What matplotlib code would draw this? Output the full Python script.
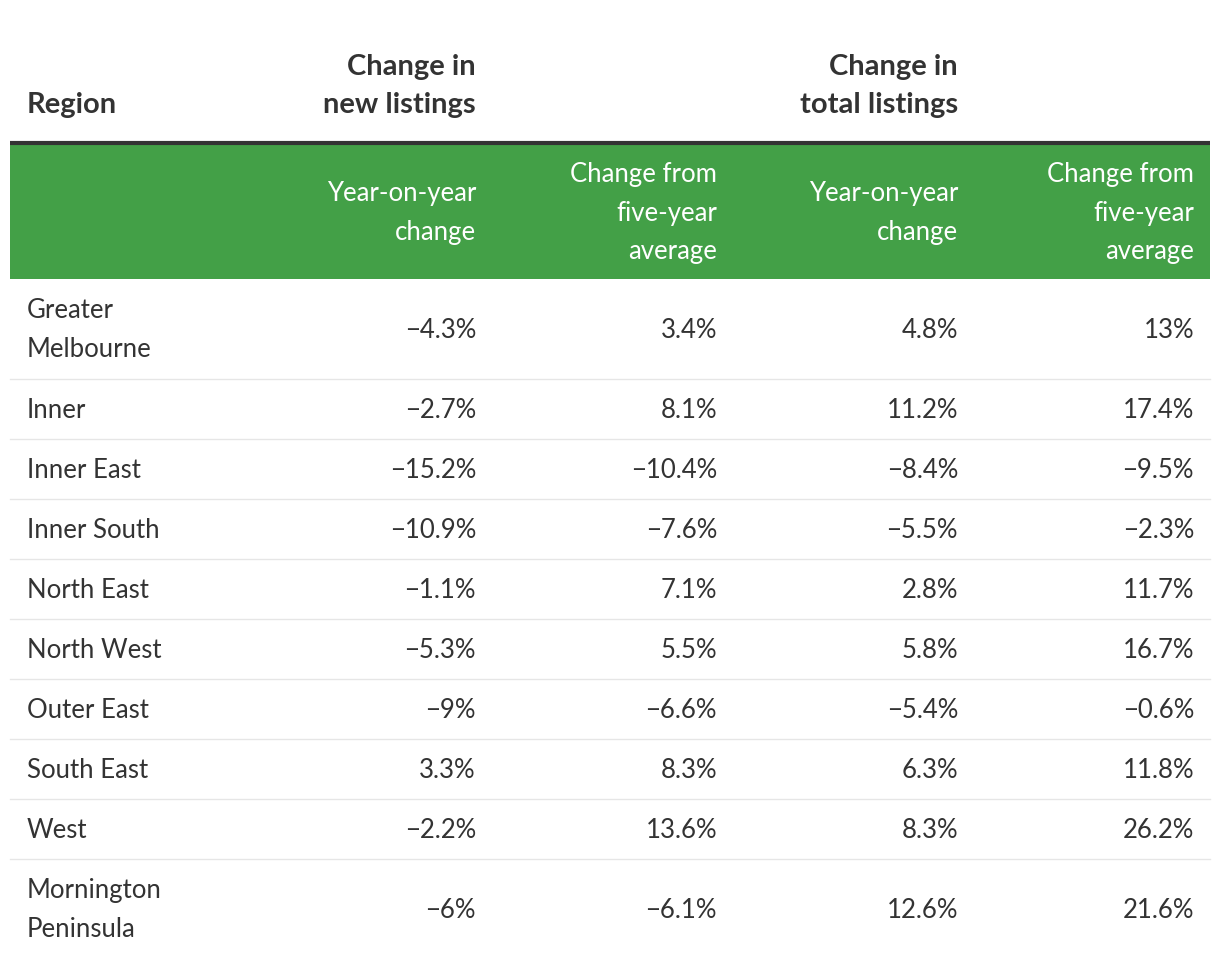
import matplotlib
matplotlib.use("Agg")
import matplotlib.pyplot as plt
from matplotlib.patches import Rectangle

regions = ["Greater\nMelbourne", "Inner", "Inner East", "Inner South", "North East",
           "North West", "Outer East", "South East", "West", "Mornington\nPeninsula"]
new_yoy = ["−4.3%", "−2.7%", "−15.2%", "−10.9%", "−1.1%", "−5.3%", "−9%", "3.3%", "−2.2%", "−6%"]
new_5yr = ["3.4%", "8.1%", "−10.4%", "−7.6%", "7.1%", "5.5%", "−6.6%", "8.3%", "13.6%", "−6.1%"]
total_yoy = ["4.8%", "11.2%", "−8.4%", "−5.5%", "2.8%", "5.8%", "−5.4%", "6.3%", "8.3%", "12.6%"]
total_5yr = ["13%", "17.4%", "−9.5%", "−2.3%", "11.7%", "16.7%", "−0.6%", "11.8%", "26.2%", "21.6%"]

group_headers = ["Change in\nnew listings", "Change in\ntotal listings"]
sub_headers = ["Year-on-year\nchange", "Change from\nfive-year\naverage",
               "Year-on-year\nchange", "Change from\nfive-year\naverage"]

plt.rcParams['font.family'] = ['Lato', 'DejaVu Sans']
TEXT = "#333333"
GREEN = "#43A047"
FS = 18.5
HFS = 21

fig = plt.figure(figsize=(12.2, 9.66), dpi=100)
ax = fig.add_axes([0, 0, 1, 1])
ax.set_xlim(0, 1220)
ax.set_ylim(966, 0)
ax.axis("off")

left, right = 10, 1210
col_right = [476, 717, 958, 1194]
text_left = 27

# top header
ax.text(text_left, 105, "Region", ha="left", va="center", fontsize=HFS, fontweight="bold", color=TEXT)
for i, h in enumerate(group_headers):
    ax.text(col_right[i * 2], 86, h, ha="right", va="center", fontsize=HFS, fontweight="bold",
            color=TEXT, linespacing=1.55)
ax.plot([left, right], [143, 143], color=TEXT, lw=3, solid_capstyle="butt")

# green sub-header band
ax.add_patch(Rectangle((left, 145), right - left, 134, color=GREEN, lw=0))
for i, h in enumerate(sub_headers):
    ax.text(col_right[i], 213, h, ha="right", va="center", fontsize=FS, color="white",
            linespacing=1.67)

# body rows
columns = [new_yoy, new_5yr, total_yoy, total_5yr]
y = 280
for r, name in enumerate(regions):
    h = 100 if "\n" in name else 60
    yc = y + h / 2
    ax.text(text_left, yc, name, ha="left", va="center", fontsize=FS, color=TEXT, linespacing=1.67)
    for c, col in enumerate(columns):
        ax.text(col_right[c], yc, col[r], ha="right", va="center", fontsize=FS, color=TEXT)
    y += h
    if r < len(regions) - 1:
        ax.plot([left, right], [y - 1, y - 1], color="#e6e6e6", lw=1)

fig.savefig("out.png", dpi=100)
